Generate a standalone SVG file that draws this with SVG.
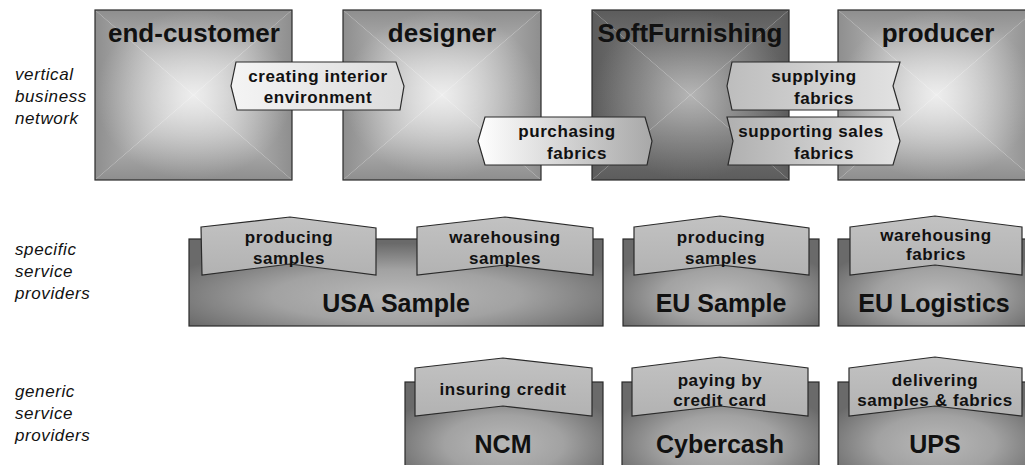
<svg xmlns="http://www.w3.org/2000/svg" width="1025" height="465" viewBox="0 0 1025 465">
<defs>
  <linearGradient id="gT" x1="0" y1="0" x2="0" y2="1"><stop offset="0" stop-color="#8e8e8e"/><stop offset="0.5" stop-color="#b4b4b4"/><stop offset="1" stop-color="#d8d8d8"/></linearGradient>
  <linearGradient id="gB" x1="0" y1="1" x2="0" y2="0"><stop offset="0" stop-color="#8e8e8e"/><stop offset="0.5" stop-color="#b4b4b4"/><stop offset="1" stop-color="#d8d8d8"/></linearGradient>
  <linearGradient id="gL" x1="0" y1="0" x2="1" y2="0"><stop offset="0" stop-color="#8e8e8e"/><stop offset="0.5" stop-color="#b4b4b4"/><stop offset="1" stop-color="#d8d8d8"/></linearGradient>
  <linearGradient id="gR" x1="1" y1="0" x2="0" y2="0"><stop offset="0" stop-color="#8e8e8e"/><stop offset="0.5" stop-color="#b4b4b4"/><stop offset="1" stop-color="#d8d8d8"/></linearGradient>
  <linearGradient id="dT" x1="0" y1="0" x2="0" y2="1"><stop offset="0" stop-color="#5c5c5c"/><stop offset="0.5" stop-color="#767676"/><stop offset="1" stop-color="#959595"/></linearGradient>
  <linearGradient id="dB" x1="0" y1="1" x2="0" y2="0"><stop offset="0" stop-color="#5c5c5c"/><stop offset="0.5" stop-color="#767676"/><stop offset="1" stop-color="#959595"/></linearGradient>
  <linearGradient id="dL" x1="0" y1="0" x2="1" y2="0"><stop offset="0" stop-color="#5c5c5c"/><stop offset="0.5" stop-color="#767676"/><stop offset="1" stop-color="#959595"/></linearGradient>
  <linearGradient id="dR" x1="1" y1="0" x2="0" y2="0"><stop offset="0" stop-color="#5c5c5c"/><stop offset="0.5" stop-color="#767676"/><stop offset="1" stop-color="#959595"/></linearGradient>
  <radialGradient id="glow" cx="0.5" cy="0.5" r="0.5"><stop offset="0" stop-color="#ffffff" stop-opacity="0.55"/><stop offset="0.45" stop-color="#ffffff" stop-opacity="0.3"/><stop offset="1" stop-color="#ffffff" stop-opacity="0"/></radialGradient>
  <radialGradient id="glowD" cx="0.5" cy="0.5" r="0.5"><stop offset="0" stop-color="#ffffff" stop-opacity="0.3"/><stop offset="0.45" stop-color="#ffffff" stop-opacity="0.15"/><stop offset="1" stop-color="#ffffff" stop-opacity="0"/></radialGradient>
  <symbol id="bevel" viewBox="0 0 100 100" preserveAspectRatio="none">
    <polygon points="0,0 100,0 50,50" fill="url(#gT)"/>
    <polygon points="0,100 100,100 50,50" fill="url(#gB)"/>
    <polygon points="0,0 0,100 50,50" fill="url(#gL)"/>
    <polygon points="100,0 100,100 50,50" fill="url(#gR)"/>
    <rect x="0" y="0" width="100" height="100" fill="url(#glow)"/>
  </symbol>
  <symbol id="bevelDark" viewBox="0 0 100 100" preserveAspectRatio="none">
    <polygon points="0,0 100,0 50,50" fill="url(#dT)"/>
    <polygon points="0,100 100,100 50,50" fill="url(#dB)"/>
    <polygon points="0,0 0,100 50,50" fill="url(#dL)"/>
    <polygon points="100,0 100,100 50,50" fill="url(#dR)"/>
    <rect x="0" y="0" width="100" height="100" fill="url(#glowD)"/>
  </symbol>
  <radialGradient id="body" cx="0.5" cy="0.65" r="0.6"><stop offset="0" stop-color="#b8b8b8"/><stop offset="0.5" stop-color="#a2a2a2"/><stop offset="1" stop-color="#6a6a6a"/></radialGradient>
  <linearGradient id="tab" x1="0" y1="0" x2="0" y2="1"><stop offset="0" stop-color="#c2c2c2"/><stop offset="1" stop-color="#b2b2b2"/></linearGradient>
  <linearGradient id="lblLight" x1="0" y1="0" x2="1" y2="0"><stop offset="0" stop-color="#f4f4f4"/><stop offset="1" stop-color="#dcdcdc"/></linearGradient>
  <linearGradient id="lblPurch" x1="0" y1="0" x2="1" y2="0"><stop offset="0" stop-color="#ffffff"/><stop offset="1" stop-color="#a8a8a8"/></linearGradient>
  <linearGradient id="lblGray" x1="0" y1="0" x2="1" y2="0"><stop offset="0" stop-color="#bdbdbd"/><stop offset="1" stop-color="#e2e2e2"/></linearGradient>
  <linearGradient id="lblGray2" x1="0" y1="0" x2="1" y2="0"><stop offset="0" stop-color="#b0b0b0"/><stop offset="1" stop-color="#e4e4e4"/></linearGradient>
</defs>
<style>
  .frame{fill:none;stroke:#2a2a2a;stroke-width:1.2}
  .shape{stroke:#2a2a2a;stroke-width:1.2}
  .big{font-family:"Liberation Sans",Arial,sans-serif;font-weight:bold;font-size:26px;fill:#111;text-anchor:middle}
  .mid{font-family:"Liberation Sans",Arial,sans-serif;font-weight:bold;font-size:25px;fill:#111;text-anchor:middle}
  .lbl{font-family:"Liberation Sans",Arial,sans-serif;font-weight:bold;font-size:17px;letter-spacing:0.6px;fill:#111;text-anchor:middle}
  .side{font-family:"Liberation Sans",Arial,sans-serif;font-style:italic;font-size:17px;letter-spacing:0.6px;fill:#111}
  .body{fill:url(#body);stroke:#2a2a2a;stroke-width:1.2}
  .tab{fill:url(#tab);stroke:#2a2a2a;stroke-width:1.2}
</style>
<rect width="1025" height="465" fill="#ffffff"/>

<g id="layer-labels">
  <text class="side" x="15" y="80">vertical</text>
  <text class="side" x="15" y="102">business</text>
  <text class="side" x="15" y="124">network</text>
  <text class="side" x="15" y="255">specific</text>
  <text class="side" x="15" y="277">service</text>
  <text class="side" x="15" y="299">providers</text>
  <text class="side" x="15" y="397">generic</text>
  <text class="side" x="15" y="419">service</text>
  <text class="side" x="15" y="441">providers</text>
</g>

<g id="end-customer">
  <use href="#bevel" x="95" y="10" width="197" height="170"/>
  <rect class="frame" x="95" y="10" width="197" height="170"/>
  <text class="big" x="194" y="42">end-customer</text>
</g>
<g id="designer">
  <use href="#bevel" x="343" y="10" width="198" height="170"/>
  <rect class="frame" x="343" y="10" width="198" height="170"/>
  <text class="big" x="442" y="42">designer</text>
</g>
<g id="softfurnishing">
  <use href="#bevelDark" x="592" y="10" width="197" height="170"/>
  <rect class="frame" x="592" y="10" width="197" height="170"/>
  <text class="big" x="690" y="42">SoftFurnishing</text>
</g>
<g id="producer">
  <use href="#bevel" x="838" y="10" width="197" height="170"/>
  <rect class="frame" x="838" y="10" width="197" height="170"/>
  <text class="big" x="938" y="42">producer</text>
</g>

<g id="connectors">
  <g id="creating-interior-environment">
    <polygon class="shape" fill="url(#lblLight)" points="236,62 396,62 404,86 400,110 237,110 231,86"/>
    <text class="lbl" x="318" y="82">creating interior</text>
    <text class="lbl" x="318" y="103">environment</text>
  </g>
  <g id="purchasing-fabrics">
    <polygon class="shape" fill="url(#lblPurch)" points="485,117 645,117 652,141 647,165 485,165 478,141"/>
    <text class="lbl" x="567" y="137">purchasing</text>
    <text class="lbl" x="577" y="159">fabrics</text>
  </g>
  <g id="supplying-fabrics">
    <polygon class="shape" fill="url(#lblGray)" points="732,62 900,62 893,86 900,110 732,110 727,86"/>
    <text class="lbl" x="814" y="82">supplying</text>
    <text class="lbl" x="824" y="104">fabrics</text>
  </g>
  <g id="supporting-sales-fabrics">
    <polygon class="shape" fill="url(#lblGray2)" points="727,117 893,117 900,141 893,165 728,165 733,141"/>
    <text class="lbl" x="811" y="137">supporting sales</text>
    <text class="lbl" x="824" y="159">fabrics</text>
  </g>
</g>

<g id="usa-sample">
  <rect class="body" x="189" y="239" width="414" height="87"/>
  <polygon class="tab" points="201,227 290,217 376,228 376,275 290,264 202,275"/>
  <text class="lbl" x="289" y="243">producing</text>
  <text class="lbl" x="289" y="264">samples</text>
  <polygon class="tab" points="417,227 505,217 593,228 593,275 505,265 417,275"/>
  <text class="lbl" x="505" y="243">warehousing</text>
  <text class="lbl" x="505" y="264">samples</text>
  <text class="mid" x="396" y="312">USA Sample</text>
</g>
<g id="eu-sample">
  <rect class="body" x="623" y="239" width="196" height="87"/>
  <polygon class="tab" points="634,227 720,216 809,228 809,275 720,265 634,275"/>
  <text class="lbl" x="721" y="243">producing</text>
  <text class="lbl" x="721" y="264">samples</text>
  <text class="mid" x="721" y="312">EU Sample</text>
</g>
<g id="eu-logistics">
  <rect class="body" x="838" y="239" width="197" height="87"/>
  <polygon class="tab" points="850,227 935,216 1022,227 1022,275 935,265 850,275"/>
  <text class="lbl" x="936" y="241">warehousing</text>
  <text class="lbl" x="936" y="260">fabrics</text>
  <text class="mid" x="934" y="312">EU Logistics</text>
</g>

<g id="ncm">
  <rect class="body" x="405" y="382" width="198" height="95"/>
  <polygon class="tab" points="415,368 503,358 592,368 592,416 503,406 415,416"/>
  <text class="lbl" x="503" y="395">insuring credit</text>
  <text class="mid" x="503" y="453">NCM</text>
</g>
<g id="cybercash">
  <rect class="body" x="622" y="382" width="197" height="95"/>
  <polygon class="tab" points="632,368 720,357 808,368 808,416 720,406 632,416"/>
  <text class="lbl" x="720" y="386">paying by</text>
  <text class="lbl" x="720" y="406">credit card</text>
  <text class="mid" x="720" y="453">Cybercash</text>
</g>
<g id="ups">
  <rect class="body" x="838" y="382" width="197" height="95"/>
  <polygon class="tab" points="849,368 935,357 1022,368 1022,416 935,406 849,416"/>
  <text class="lbl" x="935" y="386">delivering</text>
  <text class="lbl" x="935" y="406">samples &amp; fabrics</text>
  <text class="mid" x="935" y="453">UPS</text>
</g>
</svg>
